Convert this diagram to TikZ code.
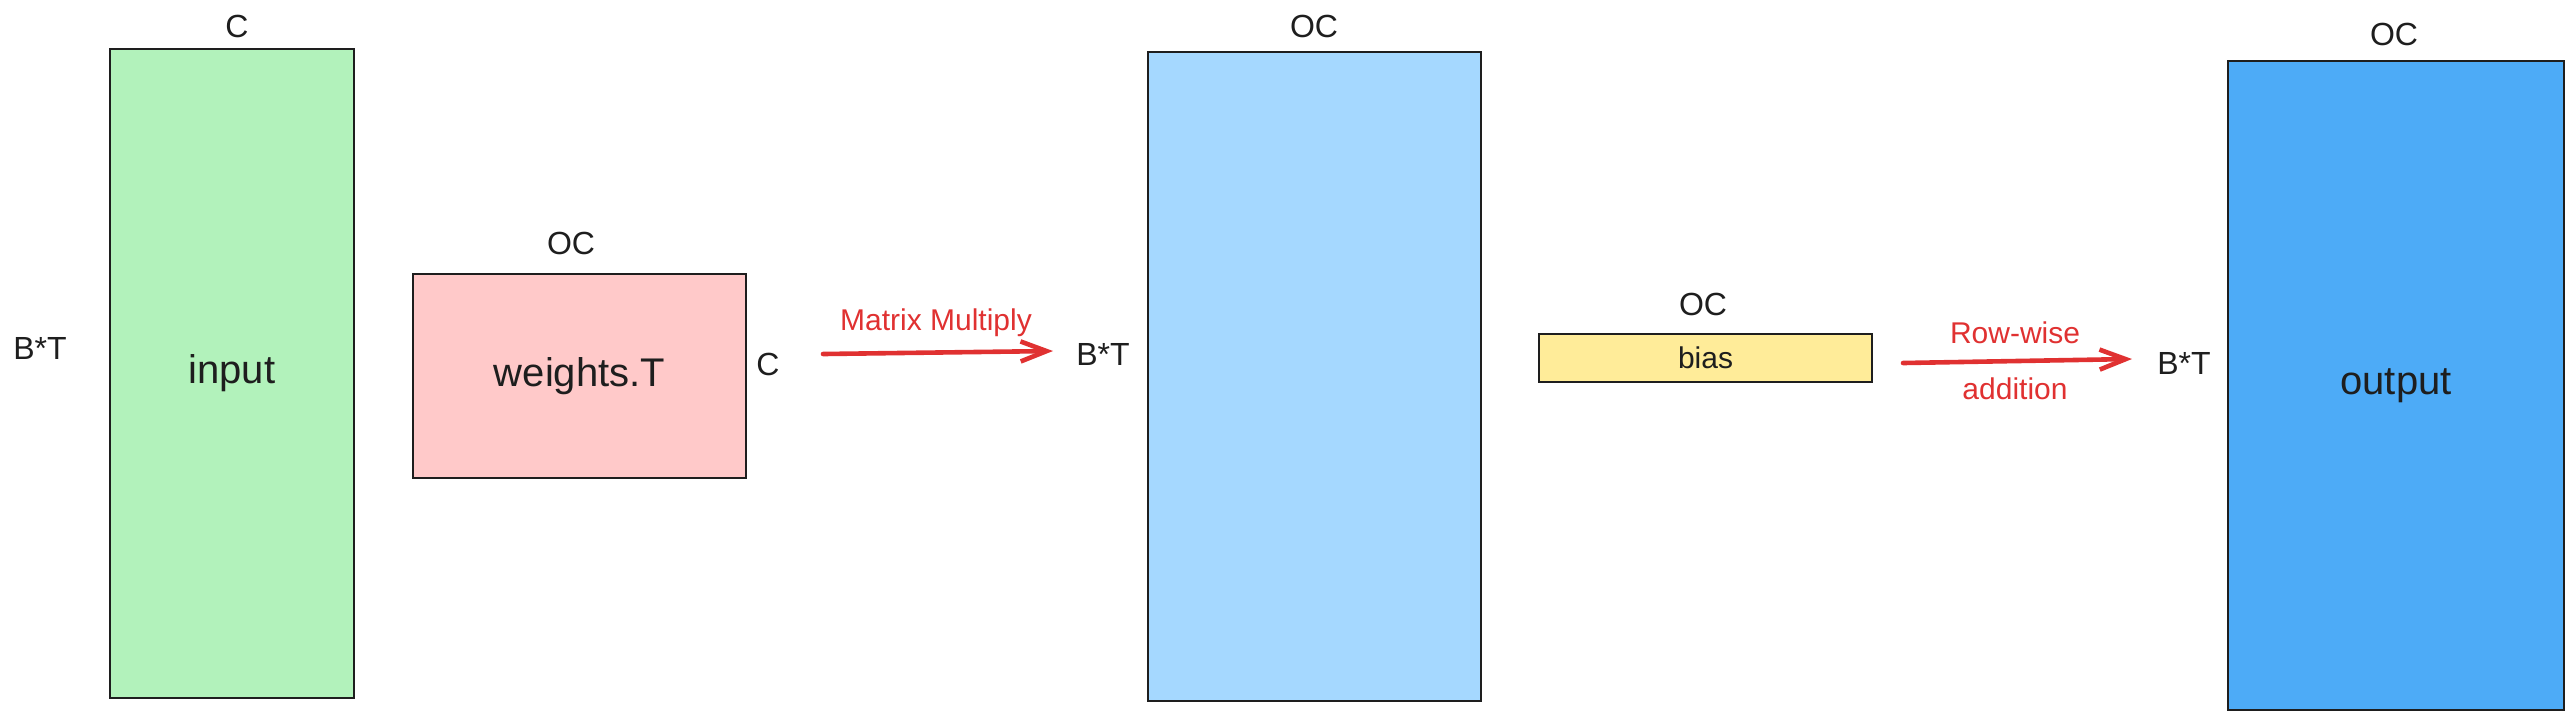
\documentclass[tikz,border=0pt]{standalone}
\usepackage{fontspec}
\setmainfont{Liberation Sans}
\usetikzlibrary{arrows.meta}
\definecolor{ink}{HTML}{1E1E1E}
\definecolor{redink}{HTML}{E03131}
\definecolor{fgreen}{HTML}{B2F2BB}
\definecolor{fpink}{HTML}{FFC9C9}
\definecolor{flblue}{HTML}{A5D8FF}
\definecolor{fyellow}{HTML}{FFEC99}
\definecolor{fblue}{HTML}{4DABF7}
\begin{document}
\begin{tikzpicture}[x=0.5pt,y=-0.5pt,
  mat/.style={draw=ink, line width=1.3pt, inner sep=0pt, text=ink, font=\fontsize{20}{24}\selectfont},
  dimlab/.style={text=ink, inner sep=1pt, font=\fontsize{16}{19}\selectfont},
  oplab/.style={text=redink, inner sep=1pt, font=\fontsize{15}{18}\selectfont},
  flow/.style={draw=redink, line width=2.3pt, line cap=round,
    -{Straight Barb[length=13pt,width=10pt,line width=2.3pt]}}
]
\useasboundingbox (0,0) rectangle (2568,720);

% matrices
\node[mat, fill=fgreen, minimum width=122pt, minimum height=324.5pt] (input) at (232,373.5) {input};
\node[mat, fill=fpink, minimum width=166.5pt, minimum height=102pt] (weights) at (579.5,376) {weights.T};
\node[mat, fill=flblue, minimum width=166.5pt, minimum height=324.5pt] (mid) at (1314.5,376.5) {};
\node[mat, fill=fyellow, minimum width=166.5pt, minimum height=24pt, font=\fontsize{15}{18}\selectfont] (bias) at (1705.5,358) {bias};
\node[mat, fill=fblue, minimum width=168pt, minimum height=324.5pt] (output) at (2396,385.5) {output};

% dimension labels
\node[dimlab] (inC) at (237,26) {C};
\node[dimlab] (inBT) at (40,348) {B*T};
\node[dimlab] (wOC) at (571,243) {OC};
\node[dimlab] (wC) at (768,364) {C};
\node[dimlab] (midOC) at (1314,26) {OC};
\node[dimlab] (midBT) at (1103,354) {B*T};
\node[dimlab] (bOC) at (1703,304) {OC};
\node[dimlab] (outOC) at (2394,34) {OC};
\node[dimlab] (outBT) at (2184,363) {B*T};

% operation labels
\node[oplab] (mm) at (936,323) {Matrix Multiply};
\node[oplab] (rw1) at (2015,333) {Row-wise};
\node[oplab] (rw2) at (2015,389) {addition};

% arrows
\coordinate (a1s) at (823,354);
\coordinate (a1e) at (1053,351);
\coordinate (a2s) at (1903,363);
\coordinate (a2e) at (2132,359);
\draw[flow] (a1s) -- (a1e);
\draw[flow] (a2s) -- (a2e);
\end{tikzpicture}
\end{document}
